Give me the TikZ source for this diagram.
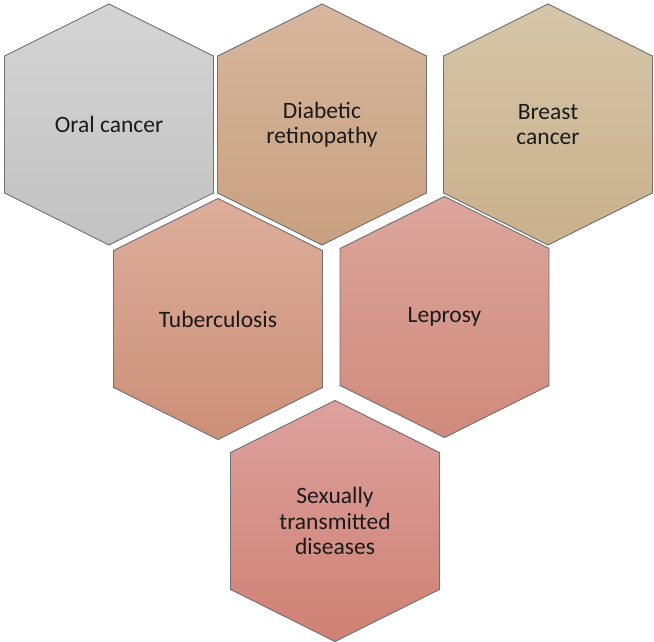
\documentclass[tikz,border=0pt]{standalone}
\usepackage{fontspec}
\setmainfont{Carlito}
\definecolor{edgec}{HTML}{707070}
\definecolor{txtc}{HTML}{1A1A1A}
\definecolor{aT}{HTML}{D4D4D4}\definecolor{aB}{HTML}{C2C2C2}
\definecolor{bT}{HTML}{D7B79D}\definecolor{bB}{HTML}{C8A07F}
\definecolor{cT}{HTML}{D6C5A8}\definecolor{cB}{HTML}{C9B08B}
\definecolor{dT}{HTML}{DDAE9B}\definecolor{dB}{HTML}{CC8F77}
\definecolor{eT}{HTML}{DCA59C}\definecolor{eB}{HTML}{CF8B7B}
\definecolor{fT}{HTML}{DDA19F}\definecolor{fB}{HTML}{CF8172}
\newcommand\drawhexa[4]{%
  \path[draw=edgec, line width=0.9pt, top color=#3, bottom color=#4]
    (#1,#2) ++(0,-120.5) -- ++(104.5,52) -- ++(0,137) -- ++(-104.5,52)
    -- ++(-104.5,-52) -- ++(0,-137) -- cycle;}
\tikzset{lbl/.style={text=txtc, align=center, font=\fontsize{23.5}{25.5}\selectfont, inner sep=0pt}}
\begin{document}
\begin{tikzpicture}[x=1pt,y=-1pt]
\useasboundingbox (0,0) rectangle (654,642);
\drawhexa{109}{124.5}{aT}{aB}
\drawhexa{322}{124.5}{bT}{bB}
\drawhexa{548}{124.5}{cT}{cB}
\drawhexa{218}{319}{dT}{dB}
\drawhexa{444.5}{317}{eT}{eB}
\drawhexa{335}{521}{fT}{fB}
\node[lbl] (oral) at (109,124.5) {Oral cancer};
\node[lbl] (diab) at (322,124.5) {Diabetic\\retinopathy};
\node[lbl] (breast) at (548,124.5) {Breast\\cancer};
\node[lbl] (tb) at (218,319) {Tuberculosis};
\node[lbl] (lep) at (444.5,317) {Leprosy};
\node[lbl] (std) at (335,521) {Sexually\\transmitted\\diseases};
\end{tikzpicture}
\end{document}
